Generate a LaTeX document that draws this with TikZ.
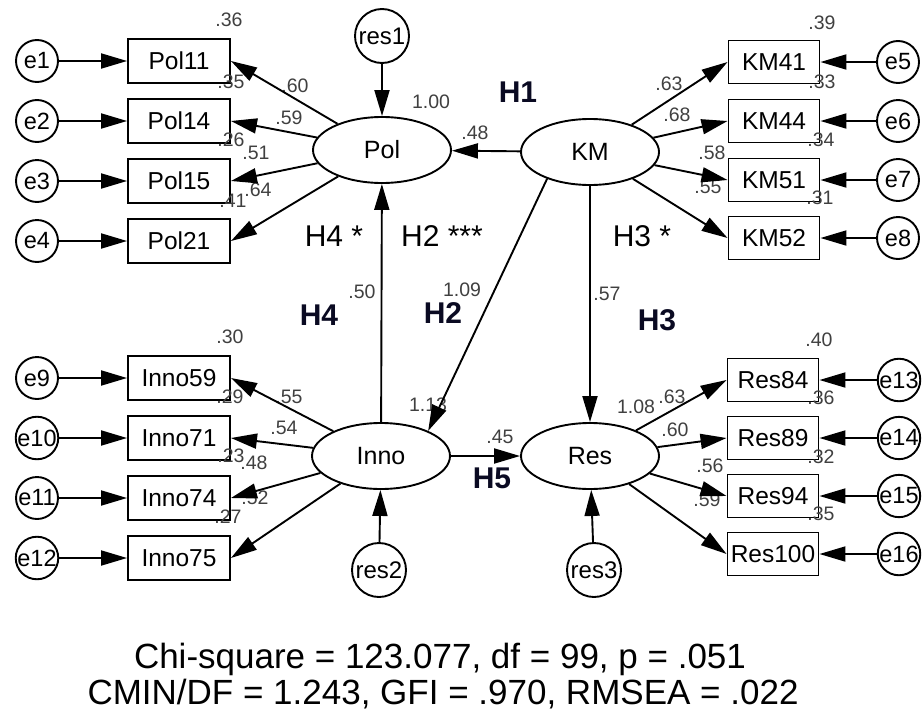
\documentclass[tikz,border=0pt]{standalone}
\usepackage{fontspec}
\setmainfont{Liberation Sans}
\usetikzlibrary{arrows.meta,shapes.geometric}
\definecolor{lbl}{HTML}{404040}
\definecolor{hyp}{HTML}{0A0A22}
\begin{document}
\begin{tikzpicture}[x=1pt,y=-1pt,
  ind/.style={draw,line width=1.9pt,minimum width=102pt,minimum height=44pt,inner sep=0pt,font=\fontsize{24.5}{28}\selectfont},
  indr/.style={ind,minimum width=91pt,minimum height=43pt},
  err/.style={draw,circle,line width=1.9pt,minimum size=42pt,inner sep=0pt,font=\fontsize{23.5}{28}\selectfont},
  resid/.style={draw,circle,line width=1.9pt,minimum size=54pt,inner sep=0pt,font=\fontsize{24}{28}\selectfont},
  lat/.style={draw,ellipse,line width=1.9pt,minimum width=138pt,minimum height=66pt,inner sep=0pt,font=\fontsize{25}{30}\selectfont},
  arr/.style={line width=1.9pt,-{Triangle[length=26pt,width=15pt]}},
  num/.style={font=\fontsize{19.5}{22}\selectfont,text=lbl,inner sep=0pt},
  hb/.style={font=\bfseries\fontsize{30}{34}\selectfont,text=hyp,inner sep=0pt},
  hr/.style={font=\fontsize{30}{34}\selectfont,inner sep=0pt},
  fit/.style={font=\fontsize{35}{40}\selectfont,inner sep=0pt,anchor=base},
]
\useasboundingbox[fill=white] (0,0) rectangle (923,715);

% latent variables
\node[lat] (Pol) at (382,150) {Pol};
\node[lat] (KM) at (590,152) {KM};
\node[lat] (Inno) at (381,456) {Inno};
\node[lat] (Res) at (590,456) {Res};
\node[resid] (res1) at (382,36) {res1};
\node[resid] (res2) at (379,570) {res2};
\node[resid] (res3) at (594,570) {res3};

% Pol indicators
\node[ind] (Pol11) at (179,61) {Pol11};
\node[ind] (Pol14) at (179,121) {Pol14};
\node[ind] (Pol15) at (179,181) {Pol15};
\node[ind] (Pol21) at (179,241) {Pol21};
\node[err] (e1) at (37,61) {e1};
\node[err] (e2) at (37,121) {e2};
\node[err] (e3) at (37,181) {e3};
\node[err] (e4) at (37,241) {e4};

% Inno indicators
\node[ind] (Inno59) at (179,378) {Inno59};
\node[ind] (Inno71) at (179,438) {Inno71};
\node[ind] (Inno74) at (179,498) {Inno74};
\node[ind] (Inno75) at (179,558) {Inno75};
\node[err] (e9) at (37,378) {e9};
\node[err] (e10) at (37,438) {e10};
\node[err] (e11) at (37,498) {e11};
\node[err] (e12) at (37,558) {e12};

% KM indicators
\node[indr] (KM41) at (774,62) {KM41};
\node[indr] (KM44) at (774,121) {KM44};
\node[indr] (KM51) at (774,180) {KM51};
\node[indr] (KM52) at (774,238) {KM52};
\node[err] (e5) at (898,62) {e5};
\node[err] (e6) at (898,121) {e6};
\node[err] (e7) at (898,180) {e7};
\node[err] (e8) at (898,238) {e8};

% Res indicators
\node[indr] (Res84) at (773,380) {Res84};
\node[indr] (Res89) at (773,438) {Res89};
\node[indr] (Res94) at (773,496) {Res94};
\node[indr] (Res100) at (773,554) {Res100};
\node[err] (e13) at (899,380) {e13};
\node[err] (e14) at (899,438) {e14};
\node[err] (e15) at (899,496) {e15};
\node[err] (e16) at (899,554) {e16};

% estimates
\node[num] (n1) at (229,20) {.36};
\node[num] (n2) at (231,82) {.35};
\node[num] (n3) at (295,86) {.60};
\node[num] (n4) at (289,118) {.59};
\node[num] (n5) at (231,140) {.26};
\node[num] (n6) at (256,153) {.51};
\node[num] (n7) at (258,190) {.64};
\node[num] (n8) at (233,201) {.41};
\node[num] (n9) at (431,102) {1.00};
\node[num] (n10) at (475,133) {.48};
\node[num] (n11) at (822,23) {.39};
\node[num] (n12) at (822,82) {.33};
\node[num] (n13) at (821,140) {.34};
\node[num] (n14) at (820,198) {.31};
\node[num] (n15) at (669,84) {.63};
\node[num] (n16) at (677,115) {.68};
\node[num] (n17) at (712,153) {.58};
\node[num] (n18) at (708,187) {.55};
\node[num] (n19) at (362,292) {.50};
\node[num] (n20) at (462,290) {1.09};
\node[num] (n21) at (607,294) {.57};
\node[num] (n22) at (428,405) {1.13};
\node[num] (n23) at (500,437) {.45};
\node[num] (n24) at (636,407) {1.08};
\node[num] (n25) at (230,337) {.30};
\node[num] (n26) at (230,397) {.29};
\node[num] (n27) at (289,397) {.55};
\node[num] (n28) at (284,428) {.54};
\node[num] (n29) at (231,456) {.23};
\node[num] (n30) at (254,463) {.48};
\node[num] (n31) at (255,498) {.52};
\node[num] (n32) at (228,517) {.27};
\node[num] (n33) at (819,340) {.40};
\node[num] (n34) at (821,398) {.36};
\node[num] (n35) at (821,457) {.32};
\node[num] (n36) at (821,514) {.35};
\node[num] (n37) at (672,397) {.63};
\node[num] (n38) at (675,430) {.60};
\node[num] (n39) at (710,466) {.56};
\node[num] (n40) at (707,500) {.59};

% hypothesis labels
\node[hb] (h1) at (518,92) {H1};
\node[hr] (h4s) at (334,236) {H4 *};
\node[hr] (h2s) at (442,236) {H2 ***};
\node[hr] (h3s) at (642,236) {H3 *};
\node[hb] (h4) at (319,315) {H4};
\node[hb] (h2) at (443,313) {H2};
\node[hb] (h3) at (657,320) {H3};
\node[hb] (h5) at (492,478) {H5};

% fit indices
\node[fit] (fit1) at (440,668) {Chi-square = 123.077, df = 99, p = .051};
\node[fit] (fit2) at (443,704) {CMIN/DF = 1.243, GFI = .970, RMSEA = .022};

% structural paths
\draw[arr] (KM) -- (Pol);
\draw[arr] (Inno) -- (Pol);
\draw[arr] (KM.212) -- (Inno.28);
\draw[arr] (KM) -- (Res);
\draw[arr] (Inno) -- (Res);
\draw[arr] (res1) -- (Pol);
\draw[arr] (res2) -- (Inno);
\draw[arr] (res3) -- (Res);

% measurement paths
\foreach \b in {Pol11,Pol14,Pol15,Pol21} \draw[arr] (Pol) -- (\b.east);
\foreach \b in {Inno59,Inno71,Inno74,Inno75} \draw[arr] (Inno) -- (\b.east);
\foreach \b in {KM41,KM44,KM51,KM52} \draw[arr] (KM) -- (\b.west);
\foreach \b in {Res84,Res89,Res94,Res100} \draw[arr] (Res) -- (\b.west);

% error paths
\foreach \e/\b in {e1/Pol11,e2/Pol14,e3/Pol15,e4/Pol21,e9/Inno59,e10/Inno71,e11/Inno74,e12/Inno75} \draw[arr] (\e) -- (\b);
\foreach \e/\b in {e5/KM41,e6/KM44,e7/KM51,e8/KM52,e13/Res84,e14/Res89,e15/Res94,e16/Res100} \draw[arr] (\e) -- (\b);
\end{tikzpicture}
\end{document}
